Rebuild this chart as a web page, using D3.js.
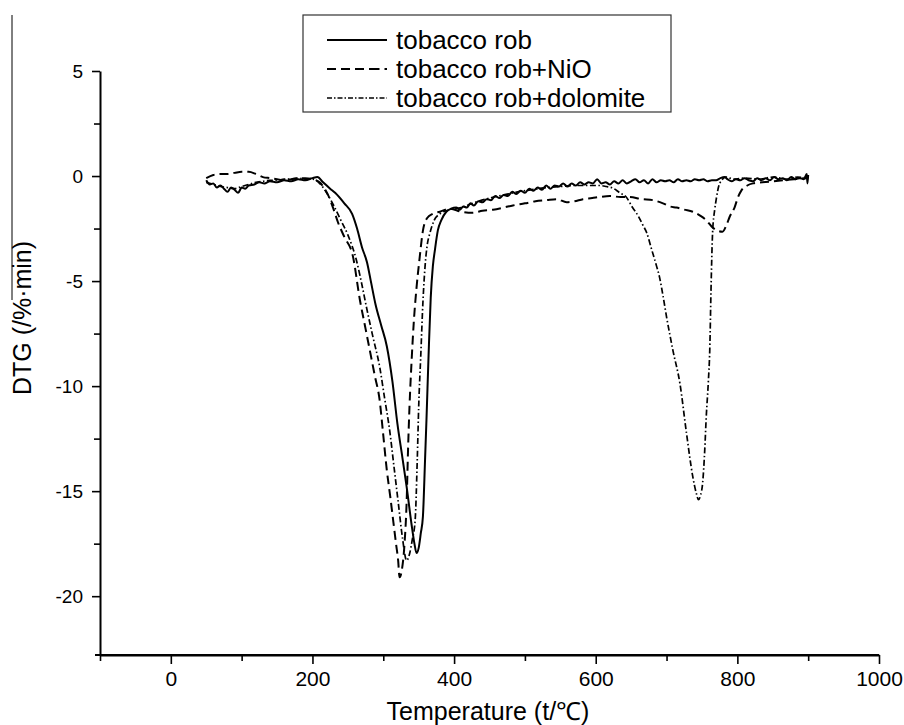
<!DOCTYPE html>
<html>
<head>
<meta charset="utf-8">
<script src="https://cdn.jsdelivr.net/npm/d3@7"></script>
<style>
  body { margin: 0; background: #fff; }
  text { font-family: "Liberation Sans", Arial, sans-serif; fill: #000; }
</style>
</head>
<body>
<div id="chart"></div>
<script>
// tobacco rob (solid)
const rob = [
  [50,-0.2],[55,-0.4],[60,-0.35],[65,-0.55],[70,-0.45],[75,-0.6],[80,-0.75],[85,-0.55],[90,-0.65],
  [95,-0.8],[100,-0.55],[105,-0.6],[110,-0.45],[118,-0.4],[125,-0.3],[132,-0.35],[140,-0.25],
  [150,-0.3],[160,-0.2],[170,-0.25],[180,-0.15],[190,-0.2],[200,-0.1],[207,-0.05],[215,-0.3],
  [225,-0.6],[232,-0.8],[245,-1.3],[256,-1.8],[263,-2.5],[270,-3.4],[277,-4.1],[283,-5.1],
  [289,-6.1],[297,-7.1],[305,-8.1],[313,-9.8],[320,-11.8],[327,-13.4],[333,-14.8],[340,-16.6],
  [344,-17.5],[347,-17.95],[350,-17.7],[353,-17.0],[356,-16.2],[359,-13.5],[361,-11.6],[364,-8.5],
  [367,-5.8],[370,-4.3],[373,-3.5],[377,-2.6],[382,-2.1],[389,-1.7],[396,-1.55],
  [403,-1.5],[408,-1.6],[413,-1.45],[418,-1.5],[423,-1.3],[428,-1.4],[434,-1.2],[440,-1.25],
  [446,-1.1],[452,-1.15],[458,-0.95],[464,-1.05],[470,-0.9],[476,-0.95],[482,-0.75],[488,-0.85],
  [494,-0.7],[500,-0.8],[506,-0.6],[512,-0.7],[518,-0.55],[524,-0.65],[530,-0.45],[536,-0.6],
  [542,-0.45],[548,-0.5],[554,-0.35],[560,-0.5],[566,-0.35],[572,-0.45],[578,-0.3],[584,-0.4],
  [590,-0.3],[596,-0.35],[602,-0.15],[608,-0.35],[614,-0.3],[620,-0.4],[626,-0.25],[632,-0.35],
  [638,-0.2],[644,-0.35],[650,-0.25],[656,-0.15],[662,-0.3],[668,-0.2],[674,-0.35],[680,-0.15],
  [686,-0.3],[692,-0.2],[698,-0.25],[704,-0.2],[710,-0.3],[716,-0.15],[722,-0.25],[728,-0.2],
  [734,-0.25],[740,-0.15],[746,-0.2],[752,-0.15],[758,-0.25],[764,-0.2],[770,-0.2],[776,-0.1],
  [782,-0.05],[786,-0.15],[792,-0.25],[798,-0.15],[804,-0.2],[810,-0.1],[816,-0.2],[822,-0.25],
  [828,-0.1],[834,-0.2],[840,-0.1],[846,-0.2],[852,-0.05],[858,-0.15],[864,-0.1],[870,-0.2],
  [876,-0.05],[882,-0.15],[888,-0.1],[894,-0.15],[898,0.1],[899,-0.35],[900,0.05]
];

// tobacco rob + NiO (dashed)
const robNiO = [
  [50,-0.1],[60,0.05],[70,0.1],[80,0.1],[90,0.15],[100,0.2],[110,0.2],[120,0.1],[130,-0.05],
  [140,-0.1],[150,-0.15],[160,-0.2],[170,-0.15],[180,-0.1],[190,-0.1],[200,-0.15],[210,-0.3],
  [222,-0.9],[230,-1.6],[236,-2.2],[245,-2.9],[257,-3.8],[267,-5.9],[274,-7.1],[281,-8.3],
  [288,-9.5],[295,-10.7],[299,-12.0],[305,-14.0],[310,-15.3],[314,-16.4],[318,-17.5],[321,-18.3],
  [323,-19.1],[326,-18.8],[330,-17.5],[333,-15.5],[335,-13.0],[337,-11.0],[340,-8.8],[343,-7.0],
  [347,-5.3],[351,-4.0],[356,-2.6],[362,-2.0],[370,-1.8],[380,-1.7],[394,-1.55],[410,-1.7],
  [426,-1.75],[440,-1.65],[455,-1.6],[470,-1.5],[483,-1.4],[500,-1.3],[515,-1.2],[530,-1.15],
  [545,-1.1],[559,-1.25],[570,-1.2],[582,-1.1],[595,-1.05],[605,-1.0],[620,-0.95],[635,-1.0],
  [648,-1.0],[665,-1.1],[681,-1.15],[695,-1.3],[705,-1.45],[714,-1.5],[725,-1.6],[737,-1.7],
  [748,-1.9],[756,-2.1],[765,-2.45],[772,-2.6],[779,-2.65],[785,-2.3],[789,-1.95],[796,-1.5],
  [801,-1.0],[806,-0.67],[814,-0.45],[822,-0.35],[835,-0.3],[850,-0.25],[865,-0.2],[880,-0.15],
  [900,-0.1]
];

// tobacco rob + dolomite (dash-dot)
const robDolomite = [
  [50,-0.3],[60,-0.4],[70,-0.5],[80,-0.55],[90,-0.6],[100,-0.5],[110,-0.4],[120,-0.3],[130,-0.25],
  [140,-0.2],[150,-0.2],[160,-0.15],[170,-0.15],[180,-0.1],[190,-0.15],[200,-0.15],[210,-0.35],
  [220,-0.8],[230,-1.4],[240,-2.1],[250,-2.8],[262,-4.0],[270,-5.2],[276,-6.2],[285,-7.6],
  [295,-9.1],[302,-10.6],[309,-12.1],[315,-13.8],[321,-15.5],[327,-17.2],[333,-18.3],[337,-18.0],
  [341,-17.3],[345,-16.4],[348,-13.5],[350,-11.0],[353,-8.5],[356,-6.0],[359,-4.3],[362,-3.3],
  [366,-2.7],[372,-2.1],[380,-1.8],[394,-1.6],[410,-1.5],[430,-1.25],[450,-1.05],[470,-0.9],
  [490,-0.75],[510,-0.65],[530,-0.55],[550,-0.5],[570,-0.45],[590,-0.45],[605,-0.45],[615,-0.5],
  [624,-0.57],[634,-0.8],[643,-1.0],[652,-1.5],[660,-1.9],[666,-2.3],[672,-2.7],[679,-3.5],
  [686,-4.3],[690,-4.8],[695,-5.7],[700,-6.7],[709,-8.3],[719,-9.9],[728,-12.2],[737,-14.3],
  [742,-15.1],[745,-15.4],[748,-15.2],[751,-14.6],[754,-13.0],[756,-11.5],[759,-9.8],[761,-8.3],
  [763,-5.1],[765,-2.7],[768,-1.6],[770,-1.14],[775,-0.35],[784,-0.05],[795,-0.15],[810,-0.1],
  [830,-0.15],[850,-0.05],[870,-0.15],[885,-0.05],[900,-0.1]
];

const seriesNames = ["tobacco rob", "tobacco rob+NiO", "tobacco rob+dolomite"];
const xMajor = [0, 200, 400, 600, 800, 1000];
const xMinor = [-100, 100, 300, 500, 700, 900];
const yMajor = [-20, -15, -10, -5, 0, 5];
const yMinor = [-17.5, -12.5, -7.5, -2.5, 2.5];

const margin = { top: 71, right: 25, bottom: 70, left: 100 },
  width = 904 - margin.left - margin.right,
  height = 725 - margin.top - margin.bottom;

const root = d3
  .select("#chart")
  .append("svg")
  .attr("width", 904)
  .attr("height", 725);

// stray scan rule at the far left
root.append("line")
  .attr("x1", 12).attr("x2", 12).attr("y1", 15).attr("y2", 300)
  .attr("stroke", "#000").attr("stroke-width", 1);

const svg = root
  .append("g")
  .attr("transform", "translate(" + margin.left + "," + margin.top + ")");

const x = d3.scaleLinear().domain([-100, 1000]).range([0, width]),
  y = d3.scaleLinear().domain([-22.8, 5]).range([height, 0]);

const plain = (d) => String(d);

// axes
const xAxis = svg.append("g")
  .attr("transform", "translate(0," + height + ")")
  .call(d3.axisBottom(x).tickValues(xMajor).tickSize(9).tickSizeOuter(0).tickPadding(7).tickFormat(plain));
svg.append("g")
  .attr("transform", "translate(0," + height + ")")
  .call(d3.axisBottom(x).tickValues(xMinor).tickSize(6).tickSizeOuter(0).tickFormat(""))
  .select(".domain").attr("d", "M-5,0H" + width);

const yAxis = svg.append("g")
  .call(d3.axisLeft(y).tickValues(yMajor).tickSize(8).tickSizeOuter(0).tickPadding(9).tickFormat(plain));
svg.append("g")
  .call(d3.axisLeft(y).tickValues(yMinor).tickSize(6).tickSizeOuter(0).tickFormat(""))
  .select(".domain").remove();

svg.selectAll(".domain").attr("stroke-width", 2);
svg.selectAll(".tick line").attr("stroke-width", 1.6);
xAxis.selectAll("text").style("font-size", "21px");
yAxis.selectAll("text").style("font-size", "19px");

// axis titles
root.append("text")
  .attr("x", 488).attr("y", 720)
  .attr("text-anchor", "middle")
  .style("font-size", "25px")
  .text("Temperature (t/\u2103)");

root.append("text")
  .attr("transform", "translate(31,318) rotate(-90)")
  .attr("text-anchor", "middle")
  .style("font-size", "25px")
  .text("DTG (/%\u00b7min)");

// curves
const line = d3.line().curve(d3.curveMonotoneX).x((d) => x(d[0])).y((d) => y(d[1]));
const styles = [
  { data: rob, dash: null, w: 2 },
  { data: robNiO, dash: "9,5", w: 2 },
  { data: robDolomite, dash: "6,2.5,1.5,2.5", w: 1.7 },
];
styles.forEach((s) => {
  svg.append("path")
    .datum(s.data)
    .attr("fill", "none")
    .attr("stroke", "#000")
    .attr("stroke-width", s.w)
    .attr("stroke-linejoin", "round")
    .attr("stroke-dasharray", s.dash)
    .attr("d", line);
});

// legend
const legend = root.append("g");
legend.append("rect")
  .attr("x", 303).attr("y", 15).attr("width", 368).attr("height", 97)
  .attr("fill", "#fff").attr("stroke", "#333").attr("stroke-width", 1.2);
const legendDash = [null, "9,5,9,5,9,5,1.5,0", "5,2,1.5,2"];
seriesNames.forEach((name, i) => {
  const cy = 40 + i * 29;
  legend.append("line")
    .attr("x1", 327).attr("x2", 387).attr("y1", cy).attr("y2", cy)
    .attr("stroke", "#000").attr("stroke-width", i == 2 ? 1.6 : 2)
    .attr("stroke-dasharray", legendDash[i]);
  legend.append("text")
    .attr("x", 396).attr("y", cy + 9)
    .style("font-size", "26px")
    .text(name);
});
</script>
</body>
</html>
